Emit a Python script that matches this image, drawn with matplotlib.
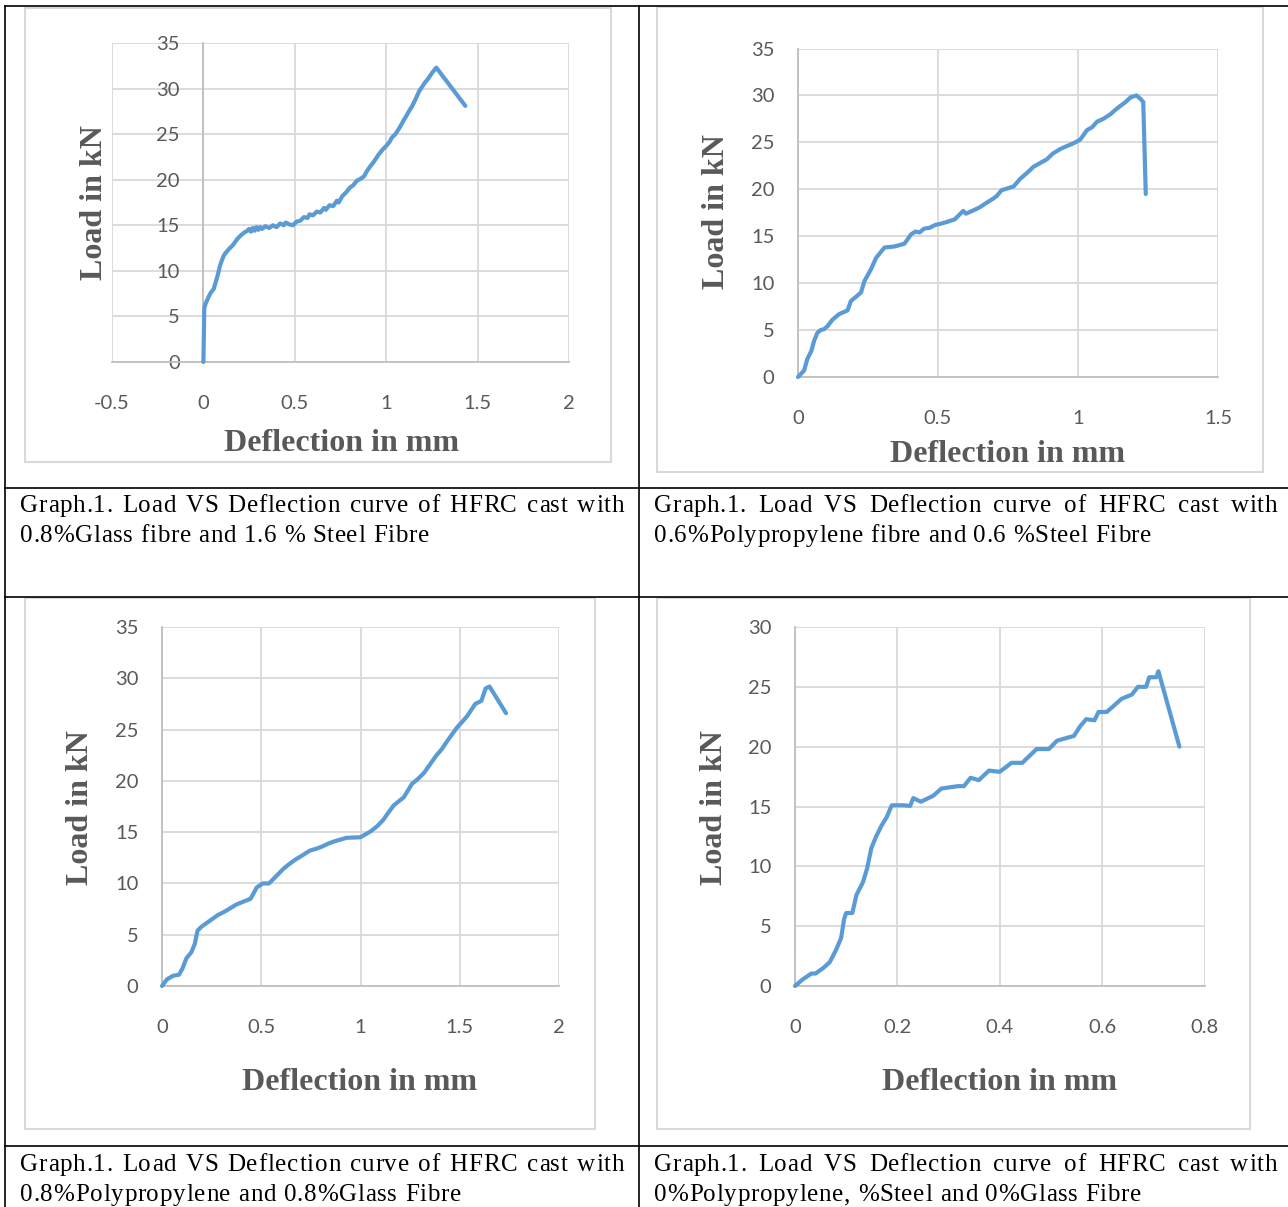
import matplotlib
matplotlib.use('Agg')
import matplotlib.pyplot as plt
from matplotlib.patches import Rectangle
from matplotlib.lines import Line2D

# ---------------- data ----------------
# Chart 1: 0.8% Glass + 1.6% Steel
c1_x = [0, 0.005, 0.012, 0.025, 0.04, 0.056, 0.068, 0.078, 0.09, 0.10, 0.112, 0.123, 0.14, 0.155,
        0.168, 0.185, 0.205, 0.223, 0.24, 0.25, 0.26, 0.27, 0.28, 0.29, 0.30, 0.31, 0.32, 0.34,
        0.36, 0.38, 0.40, 0.42, 0.44, 0.45, 0.47, 0.49, 0.51, 0.53, 0.55, 0.57, 0.58, 0.60, 0.62,
        0.64, 0.66, 0.67, 0.69, 0.71, 0.73, 0.74, 0.76, 0.78, 0.80, 0.82, 0.84, 0.86, 0.88, 0.89,
        0.91, 0.93, 0.95, 0.96, 0.98, 1.00, 1.02, 1.03, 1.05, 1.07, 1.09, 1.095, 1.11, 1.13, 1.14,
        1.16, 1.18, 1.19, 1.21, 1.23, 1.25, 1.274, 1.433]
c1_y = [0, 5.9, 6.4, 7.0, 7.6, 8.0, 8.8, 9.5, 10.5, 11.1, 11.7, 12.0, 12.4, 12.7,
        13.0, 13.5, 13.9, 14.2, 14.4, 14.6, 14.3, 14.7, 14.4, 14.8, 14.5, 14.8, 14.6, 14.9,
        14.7, 15.0, 14.8, 15.2, 15.0, 15.3, 15.1, 15.0, 15.4, 15.5, 15.9, 15.8, 16.2, 16.1, 16.5,
        16.4, 16.9, 16.7, 17.2, 17.1, 17.7, 17.5, 18.2, 18.6, 19.1, 19.4, 19.9, 20.1, 20.4, 20.8,
        21.4, 21.9, 22.5, 22.8, 23.3, 23.7, 24.2, 24.6, 25.0, 25.6, 26.3, 26.5, 27.0, 27.7, 28.0,
        28.8, 29.7, 30.0, 30.6, 31.1, 31.7, 32.3, 28.1]

# Chart 2: 0.6% Polypropylene + 0.6% Steel
c2_x = [0, 0.022, 0.033, 0.048, 0.057, 0.069, 0.081, 0.093, 0.105, 0.123, 0.147, 0.177, 0.189,
        0.225, 0.237, 0.261, 0.279, 0.309, 0.344, 0.38, 0.404, 0.42, 0.434, 0.45, 0.47, 0.49,
        0.506, 0.53, 0.56, 0.59, 0.60, 0.63, 0.65, 0.67, 0.697, 0.71, 0.727, 0.77, 0.793, 0.82,
        0.841, 0.865, 0.889, 0.91, 0.937, 0.96, 0.984, 1.008, 1.02, 1.032, 1.05, 1.068, 1.09,
        1.116, 1.135, 1.152, 1.17, 1.188, 1.209, 1.224, 1.233, 1.242]
c2_y = [0, 0.7, 1.9, 2.8, 3.8, 4.7, 5.0, 5.1, 5.4, 6.1, 6.7, 7.1, 8.1,
        9.0, 10.2, 11.5, 12.7, 13.8, 13.9, 14.2, 15.2, 15.5, 15.4, 15.8, 15.9, 16.2,
        16.3, 16.5, 16.8, 17.7, 17.4, 17.8, 18.1, 18.5, 19.0, 19.3, 19.9, 20.3, 21.1, 21.8,
        22.4, 22.8, 23.2, 23.8, 24.3, 24.6, 24.9, 25.3, 25.8, 26.3, 26.6, 27.2, 27.5,
        28.0, 28.5, 28.9, 29.3, 29.8, 30.0, 29.6, 29.3, 19.5]

# Chart 3: 0.8% Polypropylene + 0.8% Glass
c3_x = [0, 0.025, 0.056, 0.086, 0.103, 0.123, 0.148, 0.165, 0.179, 0.20, 0.24, 0.28, 0.32,
        0.375, 0.446, 0.477, 0.508, 0.539, 0.58, 0.61, 0.642, 0.67, 0.704, 0.745, 0.78, 0.807,
        0.84, 0.868, 0.93, 1.0, 1.053, 1.085, 1.115, 1.14, 1.167, 1.218, 1.259, 1.29, 1.321,
        1.35, 1.383, 1.41, 1.434, 1.46, 1.486, 1.51, 1.537, 1.578, 1.609, 1.63, 1.65, 1.733]
c3_y = [0, 0.65, 1.0, 1.1, 1.7, 2.7, 3.3, 4.1, 5.4, 5.8, 6.35, 6.9, 7.3,
        7.95, 8.5, 9.6, 10.0, 10.0, 10.8, 11.4, 11.9, 12.3, 12.7, 13.2, 13.4, 13.6,
        13.9, 14.1, 14.45, 14.5, 15.1, 15.6, 16.2, 16.9, 17.6, 18.4, 19.7, 20.2, 20.8,
        21.6, 22.5, 23.1, 23.8, 24.5, 25.2, 25.7, 26.3, 27.5, 27.8, 29.0, 29.2, 26.6]

# Chart 4: 0% Polypropylene, Steel, 0% Glass
c4_x = [0, 0.015, 0.032, 0.04, 0.056, 0.068, 0.08, 0.09, 0.096, 0.10, 0.112, 0.12, 0.133,
        0.141, 0.149, 0.158, 0.169, 0.179, 0.189, 0.213, 0.225, 0.231, 0.246, 0.27, 0.286,
        0.318, 0.33, 0.343, 0.359, 0.379, 0.40, 0.423, 0.444, 0.472, 0.496, 0.512, 0.545,
        0.557, 0.569, 0.585, 0.593, 0.609, 0.625, 0.638, 0.658, 0.67, 0.686, 0.692, 0.706,
        0.71, 0.751]
c4_y = [0, 0.55, 1.04, 1.04, 1.53, 2.0, 3.0, 4.0, 5.6, 6.1, 6.1, 7.6, 8.7,
        9.85, 11.5, 12.45, 13.4, 14.1, 15.1, 15.1, 15.05, 15.7, 15.4, 15.9, 16.5,
        16.7, 16.7, 17.4, 17.2, 18.0, 17.9, 18.65, 18.65, 19.8, 19.8, 20.5, 20.9,
        21.7, 22.3, 22.2, 22.9, 22.9, 23.5, 24.0, 24.35, 25.0, 25.0, 25.8, 25.8,
        26.3, 20.0]

c1_xticks = [-0.5, 0, 0.5, 1, 1.5, 2]
c1_xticklabels = ['-0.5', '0', '0.5', '1', '1.5', '2']
c2_xticks = [0, 0.5, 1, 1.5]
c2_xticklabels = ['0', '0.5', '1', '1.5']
c3_xticks = [0, 0.5, 1, 1.5, 2]
c3_xticklabels = ['0', '0.5', '1', '1.5', '2']
c4_xticks = [0, 0.2, 0.4, 0.6, 0.8]
c4_xticklabels = ['0', '0.2', '0.4', '0.6', '0.8']
y35_ticks = [0, 5, 10, 15, 20, 25, 30, 35]
y35_ticklabels = ['0', '5', '10', '15', '20', '25', '30', '35']
y30_ticks = [0, 5, 10, 15, 20, 25, 30]
y30_ticklabels = ['0', '5', '10', '15', '20', '25', '30']

x_title = 'Deflection in mm'
y_title = 'Load in kN'
captions = [
    (['Graph.1.', 'Load', 'VS', 'Deflection', 'curve', 'of', 'HFRC', 'cast', 'with'],
     ['0.8%Glass', 'fibre', 'and', '1.6', '%', 'Steel', 'Fibre']),
    (['Graph.1.', 'Load', 'VS', 'Deflection', 'curve', 'of', 'HFRC', 'cast', 'with'],
     ['0.6%Polypropylene', 'fibre', 'and', '0.6', '%Steel', 'Fibre']),
    (['Graph.1.', 'Load', 'VS', 'Deflection', 'curve', 'of', 'HFRC', 'cast', 'with'],
     ['0.8%Polypropylene', 'and', '0.8%Glass', 'Fibre']),
    (['Graph.1.', 'Load', 'VS', 'Deflection', 'curve', 'of', 'HFRC', 'cast', 'with'],
     ['0%Polypropylene,', '%Steel', 'and', '0%Glass', 'Fibre']),
]

# ---------------- figure ----------------
W, H = 1288, 1207
fig = plt.figure(figsize=(W / 100, H / 100), dpi=100)
fig.patch.set_facecolor('white')

LINE_C = '#5B9BD5'
GRID_C = '#D9D9D9'
AX_C = '#BFBFBF'
TXT_C = '#595959'
SERIF = ['Liberation Serif', 'DejaVu Serif']
TICKF = ['Lato', 'DejaVu Sans']


def fx(x):
    return x / W


def fy(y):
    return 1 - y / H


def hline(y, x0, x1):
    fig.add_artist(Line2D([fx(x0), fx(x1)], [fy(y), fy(y)], transform=fig.transFigure,
                          color='black', lw=1.2))


def vline(x, y0, y1):
    fig.add_artist(Line2D([fx(x), fx(x)], [fy(y0), fy(y1)], transform=fig.transFigure,
                          color='black', lw=1.2))


def frame(l, t, r, b):
    fig.add_artist(Rectangle((fx(l), fy(b)), (r - l) / W, (b - t) / H, transform=fig.transFigure,
                             fill=False, ec=GRID_C, lw=1.5))


def chart(rect, x, y, xlim, xticks, xlabels, ylim, yticks, ylabels, xt_pos, yt_pos, yaxis_at=None):
    l, t, r, b = rect
    ax = fig.add_axes([fx(l), fy(b), (r - l) / W, (b - t) / H])
    ax.patch.set_alpha(0)
    ax.plot(x, y, color=LINE_C, lw=3.0, solid_joinstyle='round', solid_capstyle='round',
            clip_on=False, zorder=3)
    ax.set_xlim(xlim)
    ax.set_ylim(ylim)
    ax.set_xticks(xticks)
    ax.set_xticklabels(xlabels)
    ax.set_yticks(yticks)
    ax.set_yticklabels(ylabels)
    ax.grid(True, color=GRID_C, lw=1.3)
    ax.set_axisbelow(True)
    for s in ['top', 'right']:
        ax.spines[s].set_visible(False)
    for s in ['left', 'bottom']:
        ax.spines[s].set_color(AX_C)
        ax.spines[s].set_linewidth(1.3)
    if yaxis_at is not None:
        ax.spines['left'].set_position(('data', yaxis_at))
    ax.tick_params(length=0, labelsize=14.5, labelcolor=TXT_C)
    ax.tick_params(axis='x', pad=24)
    ax.tick_params(axis='y', pad=17)
    for lab in ax.get_xticklabels() + ax.get_yticklabels():
        lab.set_fontfamily(TICKF)
    fig.text(fx(xt_pos[0]), fy(xt_pos[1] + 3), x_title, ha='center', va='center', family=SERIF,
             fontweight='bold', fontsize=23, color=TXT_C)
    fig.text(fx(yt_pos[0] + 4), fy(yt_pos[1]), y_title, ha='center', va='center', family=SERIF,
             fontweight='bold', fontsize=23, color=TXT_C, rotation=90)
    return ax


# table lines
hline(6, 5, W)
hline(488, 5, W)
hline(597, 5, W)
hline(1146, 5, W)
vline(5, 6, H)
vline(639, 6, H)

# chart frames
frame(24.5, 8.5, 611, 462)
frame(656.5, 7.5, 1263, 472)
frame(25, 598, 595, 1129)
frame(657, 598, 1249.5, 1129)

chart((112, 43, 569, 362), c1_x, c1_y, (-0.5, 2), c1_xticks, c1_xticklabels,
      (0, 35), y35_ticks, y35_ticklabels, (341, 440), (90, 203), yaxis_at=0)
chart((798, 48.5, 1218, 377), c2_x, c2_y, (0, 1.5), c2_xticks, c2_xticklabels,
      (0, 35), y35_ticks, y35_ticklabels, (1008, 451), (712, 212))
chart((162, 627, 559, 986), c3_x, c3_y, (0, 2), c3_xticks, c3_xticklabels,
      (0, 35), y35_ticks, y35_ticklabels, (359, 1080), (77, 808))
chart((795, 627, 1204.5, 986), c4_x, c4_y, (0, 0.8), c4_xticks, c4_xticklabels,
      (0, 30), y30_ticks, y30_ticklabels, (1000, 1080), (710, 808))

# captions: justified lines drawn with slight letter tracking
renderer = fig.canvas.get_renderer()
CAP_FS = 18
_wcache = {}


def tw(s):
    if s not in _wcache:
        t = fig.text(0, 0, s, family=SERIF, fontsize=CAP_FS)
        _wcache[s] = t.get_window_extent(renderer).width
        t.remove()
    return _wcache[s]


def word_width(w, track):
    return tw(w) + track * (len(w) - 1)


def draw_word(w, x, ybase, track):
    for i, ch in enumerate(w):
        off = tw(w[:i + 1]) - tw(ch) + i * track
        fig.text(fx(x + off), fy(ybase), ch, ha='left', va='baseline', family=SERIF,
                 fontsize=CAP_FS, color='black')


def draw_line(words, x0, x1, ybase, track):
    widths = [word_width(w, track) for w in words]
    gap = (x1 - x0 - sum(widths)) / max(len(words) - 1, 1)
    xc = x0
    for w, wd in zip(words, widths):
        draw_word(w, xc, ybase, track)
        xc += wd + gap


cap_layout = [
    (20, 624, 429, 512, 542),
    (654, 1277, 1151, 512, 542),
    (20, 624, 461, 1171, 1201),
    (654, 1277, 1141, 1171, 1201),
]
for (l1, l2), (x0, x1, x2end, yb1, yb2) in zip(captions, cap_layout):
    line2 = ' '.join(l2)
    track = max((x2end - x0 - tw(line2)) / (len(line2) - 1), 0.0)
    draw_line(l1, x0, x1, yb1, track)
    draw_line(l2, x0, x2end, yb2, track)

fig.savefig('out.png', dpi=100, facecolor='white')
